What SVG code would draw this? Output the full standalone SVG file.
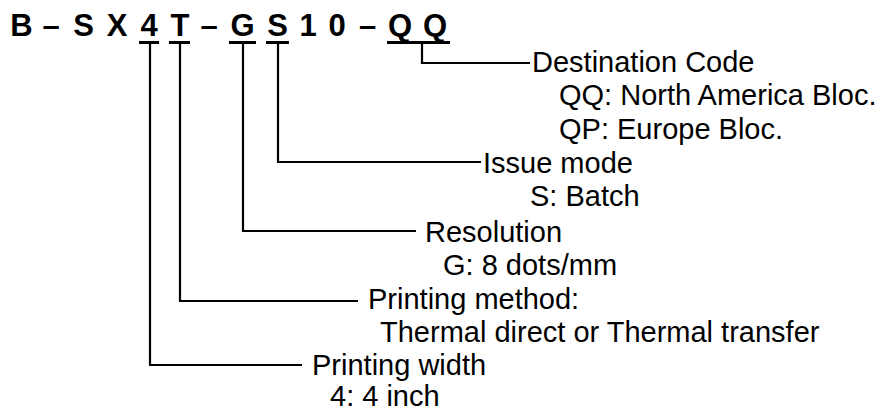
<svg xmlns="http://www.w3.org/2000/svg" width="882" height="412" viewBox="0 0 882 412">
<style>
.t{font-family:"Liberation Sans",Arial,sans-serif;font-size:29px;fill:#000}
.h{font-family:"Liberation Sans",Arial,sans-serif;font-size:31px;font-weight:bold;fill:#000}
.c{fill:none;stroke:#000;stroke-width:2.2}
.u{fill:none;stroke:#000;stroke-width:3}
</style>
<rect width="882" height="412" fill="#fff"/>
<g id="code">
<text class="h" y="36" text-anchor="middle" x="21.5 36 51 67 83.5 100 117 133 149 165 180 195 209 226 242.5 260 277.5 293 308 323 337 352 367.5 384 400 418 435">B – S X 4 T – G S 1 0 – Q Q</text>
<path class="u" d="M139,42.5H159M169,42.5H190M229,42.5H256M266,42.5H289M387,42.5H450"/>
</g>
<g id="connectors">
<path class="c" d="M422,44V63H530"/>
<path class="c" d="M278,44V162H481"/>
<path class="c" d="M243,44V231H416"/>
<path class="c" d="M180,44V301H358"/>
<path class="c" d="M150,44V365H302"/>
</g>
<g id="destination">
<text class="t" x="532" y="72">Destination Code</text>
<text class="t" x="559" y="105">QQ: North America Bloc.</text>
<text class="t" x="559" y="139">QP: Europe Bloc.</text>
</g>
<g id="issue-mode">
<text class="t" x="483" y="173">Issue mode</text>
<text class="t" x="530" y="206">S: Batch</text>
</g>
<g id="resolution">
<text class="t" x="425" y="242">Resolution</text>
<text class="t" x="443" y="275">G: 8 dots/mm</text>
</g>
<g id="printing-method">
<text class="t" x="368" y="309">Printing method:</text>
<text class="t" x="380" y="342">Thermal direct or Thermal transfer</text>
</g>
<g id="printing-width">
<text class="t" x="312" y="375">Printing width</text>
<text class="t" x="330" y="406">4: 4 inch</text>
</g>
</svg>
